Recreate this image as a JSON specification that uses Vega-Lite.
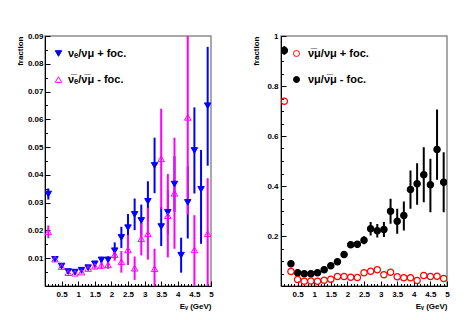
{
  "$schema": "https://vega.github.io/schema/vega-lite/v6.json",
  "padding": {"left": 15, "top": 31, "right": 5, "bottom": 5},
  "background": "white",
  "spacing": 70,
  "bounds": "flush",
  "resolve": {
    "scale": {"shape": "independent", "fill": "independent", "stroke": "independent", "x": "independent", "y": "independent"}
  },
  "config": {
    "view": {"stroke": "#8c8c8c", "strokeWidth": 1.5},
    "font": "Liberation Sans",
    "axis": {
      "labelFont": "Liberation Sans", "labelFontWeight": "bold", "labelFontSize": 8, "labelColor": "#000",
      "titleFont": "Liberation Sans", "titleFontWeight": "bold", "titleFontSize": 8, "titleColor": "#000",
      "domainColor": "#000", "domainWidth": 1, "tickColor": "#000", "tickWidth": 1, "grid": false,
      "titleAnchor": "end", "labelFlush": false, "labelOverlap": false
    },
    "legend": {
      "labelFont": "Liberation Sans", "labelFontWeight": "bold",
      "labelFontSize": 11, "labelColor": "#000", "symbolStrokeWidth": 1, "rowPadding": 14, "padding": 0
    }
  },
  "hconcat": [
    {
      "width": 166, "height": 250,
      "resolve": {"axis": {"x": "independent", "y": "independent"}},
      "data": {"values": [
        {"E":0.1,"s":"nue","v":0.0331,"lo":0.0311,"hi":0.0351},
        {"E":0.3,"s":"nue","v":0.0096,"lo":0.0088,"hi":0.0104},
        {"E":0.5,"s":"nue","v":0.0072,"lo":0.0065,"hi":0.0079},
        {"E":0.7,"s":"nue","v":0.0052,"lo":0.0046,"hi":0.0058},
        {"E":0.9,"s":"nue","v":0.0050,"lo":0.0044,"hi":0.0056},
        {"E":1.1,"s":"nue","v":0.0057,"lo":0.0051,"hi":0.0063},
        {"E":1.3,"s":"nue","v":0.0066,"lo":0.0059,"hi":0.0073},
        {"E":1.5,"s":"nue","v":0.0080,"lo":0.0071,"hi":0.0089},
        {"E":1.7,"s":"nue","v":0.0094,"lo":0.0083,"hi":0.0105},
        {"E":1.9,"s":"nue","v":0.0094,"lo":0.0081,"hi":0.0107},
        {"E":2.1,"s":"nue","v":0.0127,"lo":0.0097,"hi":0.0157},
        {"E":2.3,"s":"nue","v":0.0175,"lo":0.0137,"hi":0.0213},
        {"E":2.5,"s":"nue","v":0.0210,"lo":0.0161,"hi":0.0259},
        {"E":2.7,"s":"nue","v":0.0258,"lo":0.0201,"hi":0.0315},
        {"E":2.9,"s":"nue","v":0.0236,"lo":0.0179,"hi":0.0293},
        {"E":3.1,"s":"nue","v":0.0305,"lo":0.0233,"hi":0.0377},
        {"E":3.3,"s":"nue","v":0.0434,"lo":0.0334,"hi":0.0534},
        {"E":3.5,"s":"nue","v":0.0214,"lo":0.0144,"hi":0.0284},
        {"E":3.7,"s":"nue","v":0.0265,"lo":0.0185,"hi":0.0345},
        {"E":3.9,"s":"nue","v":0.0367,"lo":0.0267,"hi":0.0467},
        {"E":4.1,"s":"nue","v":0.0111,"lo":0.0048,"hi":0.0174},
        {"E":4.3,"s":"nue","v":0.0301,"lo":0.0171,"hi":0.0431},
        {"E":4.5,"s":"nue","v":0.0488,"lo":0.0333,"hi":0.0643},
        {"E":4.7,"s":"nue","v":0.0348,"lo":0.0152,"hi":0.0490},
        {"E":4.9,"s":"nue","v":0.0649,"lo":0.0433,"hi":0.0861},
        {"E":0.1,"s":"nuebar","v":0.0195,"lo":0.0172,"hi":0.0218},
        {"E":0.3,"s":"nuebar","v":0.0097,"lo":0.0089,"hi":0.0105},
        {"E":0.5,"s":"nuebar","v":0.0070,"lo":0.0063,"hi":0.0077},
        {"E":0.7,"s":"nuebar","v":0.0048,"lo":0.0042,"hi":0.0054},
        {"E":0.9,"s":"nuebar","v":0.0046,"lo":0.0040,"hi":0.0052},
        {"E":1.1,"s":"nuebar","v":0.0050,"lo":0.0044,"hi":0.0056},
        {"E":1.3,"s":"nuebar","v":0.0063,"lo":0.0056,"hi":0.0070},
        {"E":1.5,"s":"nuebar","v":0.0071,"lo":0.0062,"hi":0.0080},
        {"E":1.7,"s":"nuebar","v":0.0074,"lo":0.0062,"hi":0.0086},
        {"E":1.9,"s":"nuebar","v":0.0076,"lo":0.0062,"hi":0.0090},
        {"E":2.1,"s":"nuebar","v":0.0113,"lo":0.0091,"hi":0.0135},
        {"E":2.3,"s":"nuebar","v":0.0087,"lo":0.0048,"hi":0.0126},
        {"E":2.5,"s":"nuebar","v":0.0130,"lo":0.0076,"hi":0.0184},
        {"E":2.7,"s":"nuebar","v":0.0064,"lo":0.0022,"hi":0.0106},
        {"E":2.9,"s":"nuebar","v":0.0170,"lo":0.0110,"hi":0.0230},
        {"E":3.1,"s":"nuebar","v":0.0188,"lo":0.0095,"hi":0.0281},
        {"E":3.3,"s":"nuebar","v":0.0062,"lo":-0.0010,"hi":0.0134},
        {"E":3.5,"s":"nuebar","v":0.0458,"lo":0.0278,"hi":0.0638},
        {"E":3.7,"s":"nuebar","v":0.0253,"lo":0.0103,"hi":0.0403},
        {"E":3.9,"s":"nuebar","v":0.0334,"lo":0.0134,"hi":0.0534},
        {"E":4.3,"s":"nuebar","v":0.0607,"lo":0.0257,"hi":0.0957},
        {"E":4.5,"s":"nuebar","v":0.0130,"lo":-0.0005,"hi":0.0255},
        {"E":4.9,"s":"nuebar","v":0.0188,"lo":-0.0012,"hi":0.0388}
      ]},
      "layer": [
        {
          "transform": [{"filter": "datum.s == 'nue'"}],
          "mark": {"type": "rule", "strokeWidth": 2, "clip": true, "color": "#0000ff"},
          "encoding": {
            "x": {"field": "E", "type": "quantitative", "scale": {"domain": [0, 5], "nice": false, "zero": false},
              "axis": {"orient": "bottom", "title": "Eᵥ (GeV)", "titlePadding": 4, "labelPadding": 9, "tickSize": -5, "labelOverlap": false,
                "values": [0.5,1,1.5,2,2.5,3,3.5,4,4.5,5],
                "labelExpr": "'' + datum.value"}},
            "y": {"field": "lo", "type": "quantitative", "title": "fraction",
              "scale": {"domain": [0, 0.09], "nice": false, "zero": false},
              "axis": {"orient": "left", "titlePadding": 3, "labelPadding": 7, "tickSize": -5, "labelOverlap": false,
                "values": [0.01,0.02,0.03,0.04,0.05,0.06,0.07,0.08,0.09],
                "format": ".2f"}},
            "y2": {"field": "hi"}
          }
        },
        {
          "transform": [{"filter": "datum.s == 'nuebar'"}],
          "mark": {"type": "rule", "strokeWidth": 2, "clip": true, "color": "#ff00ff"},
          "encoding": {
            "x": {"field": "E", "type": "quantitative", "axis": null},
            "y": {"field": "lo", "type": "quantitative", "axis": null},
            "y2": {"field": "hi"}
          }
        },
        {
          "mark": {"type": "point", "filled": true, "size": 42, "strokeWidth": 1, "clip": true, "opacity": 1},
          "encoding": {
            "x": {"field": "E", "type": "quantitative",
              "axis": {"orient": "bottom", "title": null, "labels": false, "domain": false, "tickSize": -2.5,
                "values": [0.1,0.2,0.3,0.4,0.6,0.7,0.8,0.9,1.1,1.2,1.3,1.4,1.6,1.7,1.8,1.9,2.1,2.2,2.3,2.4,2.6,2.7,2.8,2.9,3.1,3.2,3.3,3.4,3.6,3.7,3.8,3.9,4.1,4.2,4.3,4.4,4.6,4.7,4.8,4.9]}},
            "y": {"field": "v", "type": "quantitative",
              "axis": {"orient": "left", "title": null, "labels": false, "domain": false, "tickSize": -2.5,
                "values": [0.005,0.015,0.025,0.035,0.045,0.055,0.065,0.075,0.085]}},
            "shape": {"field": "s", "type": "nominal", "scale": {"domain": ["nue", "nuebar"], "range": ["triangle-down", "triangle-up"]},
              "legend": {"orient": "none", "legendX": 8, "legendY": 12, "title": null, "labelOffset": 4, "symbolSize": 42,
                "labelExpr": "datum.label == 'nue' ? 'νₑ/νμ + foc.' : 'ν̅ₑ/ν̅μ - foc.'"}},
            "fill": {"field": "s", "type": "nominal", "scale": {"domain": ["nue", "nuebar"], "range": ["#0000ff", "transparent"]}},
            "stroke": {"field": "s", "type": "nominal", "scale": {"domain": ["nue", "nuebar"], "range": ["#0000ff", "#ff00ff"]}}
          }
        }
      ]
    },
    {
      "width": 166, "height": 250,
      "resolve": {"axis": {"x": "independent", "y": "independent"}},
      "data": {"values": [
        {"E":0.1,"s":"numu","v":0.942,"lo":0.925,"hi":0.960},
        {"E":0.3,"s":"numu","v":0.089,"lo":0.083,"hi":0.095},
        {"E":0.5,"s":"numu","v":0.053,"lo":0.049,"hi":0.057},
        {"E":0.7,"s":"numu","v":0.049,"lo":0.045,"hi":0.053},
        {"E":0.9,"s":"numu","v":0.049,"lo":0.045,"hi":0.053},
        {"E":1.1,"s":"numu","v":0.053,"lo":0.049,"hi":0.057},
        {"E":1.3,"s":"numu","v":0.065,"lo":0.060,"hi":0.070},
        {"E":1.5,"s":"numu","v":0.081,"lo":0.075,"hi":0.087},
        {"E":1.7,"s":"numu","v":0.097,"lo":0.090,"hi":0.104},
        {"E":1.9,"s":"numu","v":0.126,"lo":0.118,"hi":0.134},
        {"E":2.1,"s":"numu","v":0.165,"lo":0.155,"hi":0.175},
        {"E":2.3,"s":"numu","v":0.167,"lo":0.155,"hi":0.179},
        {"E":2.5,"s":"numu","v":0.183,"lo":0.167,"hi":0.199},
        {"E":2.7,"s":"numu","v":0.229,"lo":0.202,"hi":0.256},
        {"E":2.9,"s":"numu","v":0.221,"lo":0.194,"hi":0.248},
        {"E":3.1,"s":"numu","v":0.226,"lo":0.196,"hi":0.256},
        {"E":3.3,"s":"numu","v":0.299,"lo":0.249,"hi":0.349},
        {"E":3.5,"s":"numu","v":0.259,"lo":0.209,"hi":0.309},
        {"E":3.7,"s":"numu","v":0.282,"lo":0.222,"hi":0.338},
        {"E":3.9,"s":"numu","v":0.386,"lo":0.309,"hi":0.462},
        {"E":4.1,"s":"numu","v":0.409,"lo":0.325,"hi":0.491},
        {"E":4.3,"s":"numu","v":0.445,"lo":0.335,"hi":0.555},
        {"E":4.5,"s":"numu","v":0.405,"lo":0.295,"hi":0.509},
        {"E":4.7,"s":"numu","v":0.546,"lo":0.425,"hi":0.706},
        {"E":4.9,"s":"numu","v":0.415,"lo":0.295,"hi":0.535},
        {"E":0.1,"s":"numubar","v":0.739},
        {"E":0.3,"s":"numubar","v":0.058},
        {"E":0.5,"s":"numubar","v":0.026},
        {"E":0.7,"s":"numubar","v":0.019},
        {"E":0.9,"s":"numubar","v":0.020},
        {"E":1.1,"s":"numubar","v":0.019},
        {"E":1.3,"s":"numubar","v":0.023},
        {"E":1.5,"s":"numubar","v":0.027},
        {"E":1.7,"s":"numubar","v":0.038},
        {"E":1.9,"s":"numubar","v":0.038},
        {"E":2.1,"s":"numubar","v":0.035},
        {"E":2.3,"s":"numubar","v":0.034},
        {"E":2.5,"s":"numubar","v":0.053},
        {"E":2.7,"s":"numubar","v":0.059},
        {"E":2.9,"s":"numubar","v":0.065},
        {"E":3.1,"s":"numubar","v":0.045},
        {"E":3.3,"s":"numubar","v":0.055},
        {"E":3.5,"s":"numubar","v":0.037},
        {"E":3.7,"s":"numubar","v":0.033},
        {"E":3.9,"s":"numubar","v":0.033},
        {"E":4.1,"s":"numubar","v":0.022},
        {"E":4.3,"s":"numubar","v":0.042},
        {"E":4.5,"s":"numubar","v":0.038},
        {"E":4.7,"s":"numubar","v":0.039},
        {"E":4.9,"s":"numubar","v":0.030}
      ]},
      "layer": [
        {
          "transform": [{"filter": "datum.s == 'numu'"}],
          "mark": {"type": "rule", "strokeWidth": 2, "clip": true, "color": "#000000"},
          "encoding": {
            "x": {"field": "E", "type": "quantitative", "scale": {"domain": [0, 5], "nice": false, "zero": false},
              "axis": {"orient": "bottom", "title": "Eᵥ (GeV)", "titlePadding": 4, "labelPadding": 9, "tickSize": -5, "labelOverlap": false,
                "values": [0.5,1,1.5,2,2.5,3,3.5,4,4.5,5],
                "labelExpr": "'' + datum.value"}},
            "y": {"field": "lo", "type": "quantitative", "title": "fraction",
              "scale": {"domain": [0, 1], "nice": false, "zero": false},
              "axis": {"orient": "left", "titlePadding": 6, "labelPadding": 8, "tickSize": -5, "labelOverlap": false,
                "values": [0.2,0.4,0.6,0.8,1],
                "labelExpr": "datum.value > 0.99 ? '1' : format(datum.value, '.1f')"}},
            "y2": {"field": "hi"}
          }
        },
        {
          "mark": {"type": "point", "filled": true, "size": 40, "strokeWidth": 1.2, "clip": true, "opacity": 1},
          "encoding": {
            "x": {"field": "E", "type": "quantitative",
              "axis": {"orient": "bottom", "title": null, "labels": false, "domain": false, "tickSize": -2.5,
                "values": [0.1,0.2,0.3,0.4,0.6,0.7,0.8,0.9,1.1,1.2,1.3,1.4,1.6,1.7,1.8,1.9,2.1,2.2,2.3,2.4,2.6,2.7,2.8,2.9,3.1,3.2,3.3,3.4,3.6,3.7,3.8,3.9,4.1,4.2,4.3,4.4,4.6,4.7,4.8,4.9]}},
            "y": {"field": "v", "type": "quantitative",
              "axis": {"orient": "left", "title": null, "labels": false, "domain": false, "tickSize": -2.5,
                "values": [0.05,0.1,0.15,0.25,0.3,0.35,0.45,0.5,0.55,0.65,0.7,0.75,0.85,0.9,0.95]}},
            "shape": {"field": "s", "type": "nominal", "scale": {"domain": ["numubar", "numu"], "range": ["circle", "circle"]},
              "legend": {"orient": "none", "legendX": 10, "legendY": 12, "title": null, "labelOffset": 6, "symbolSize": 36,
                "labelExpr": "datum.label == 'numubar' ? 'ν̅μ/νμ + foc.' : 'νμ/ν̅μ - foc.'"}},
            "fill": {"field": "s", "type": "nominal", "scale": {"domain": ["numubar", "numu"], "range": ["transparent", "#000000"]}},
            "stroke": {"field": "s", "type": "nominal", "scale": {"domain": ["numubar", "numu"], "range": ["#ff0000", "#000000"]}}
          }
        }
      ]
    }
  ]
}
